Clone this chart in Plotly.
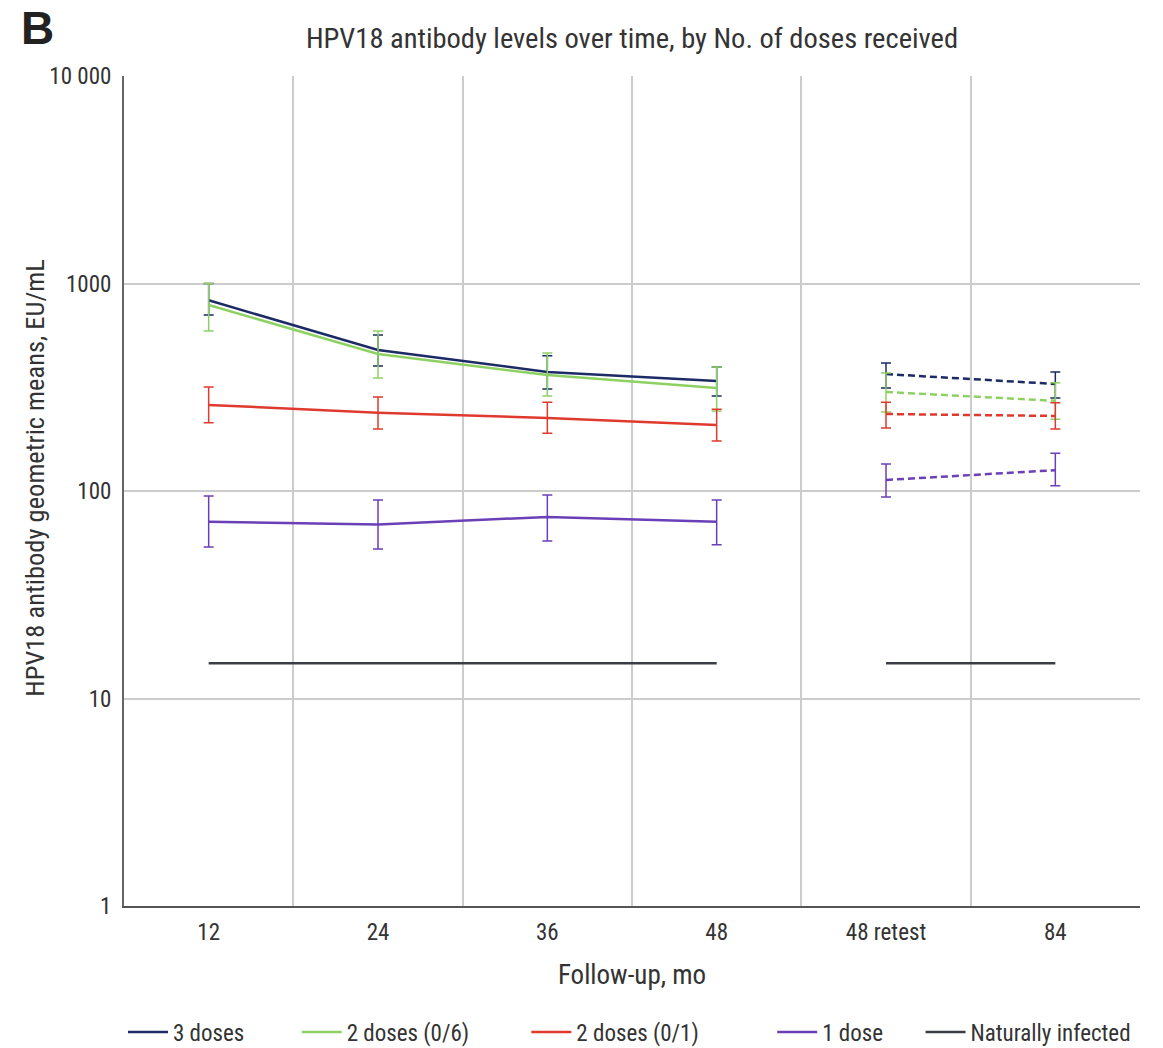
import plotly.graph_objects as go

categories = ["12", "24", "36", "48", "48 retest", "84"]

series_names = ["3 doses", "2 doses (0/6)", "2 doses (0/1)", "1 dose"]
colors = ["#1c2a66", "#8ed163", "#e03a2e", "#6b3fb8"]

gmt_3 = [830, 478, 375, 339, 366, 328]
hi_3 = [1000, 565, 448, 396, 414, 375]
lo_3 = [705, 400, 310, 287, 314, 281]

gmt_2_06 = [788, 457, 362, 314, 300, 272]
hi_2_06 = [1000, 590, 462, 396, 370, 332]
lo_2_06 = [590, 350, 287, 243, 240, 222]

gmt_2_01 = [260, 238, 225, 208, 235, 230]
hi_2_01 = [317, 284, 268, 248, 268, 266]
lo_2_01 = [213, 199, 190, 174, 201, 199]

gmt_1 = [71, 69, 75, 71, 113, 126]
hi_1 = [94.6, 90.5, 95.6, 90.5, 135, 152]
lo_1 = [53.7, 52.5, 57.4, 55, 93.5, 106]

natural = [14.8, 14.8, 14.8, 14.8, 14.8, 14.8]
natural_name = "Naturally infected"
natural_color = "#3b3e46"

all_gmt = [gmt_3, gmt_2_06, gmt_2_01, gmt_1]
all_hi = [hi_3, hi_2_06, hi_2_01, hi_1]
all_lo = [lo_3, lo_2_06, lo_2_01, lo_1]

FONT = "Roboto Condensed, DejaVu Sans Condensed, sans-serif"
TXT = "#333333"

# legend placement (one legend per entry, spread across the bottom)
legend_x = [-0.001, 0.170, 0.396, 0.638, 0.784]
legend_ids = ["legend", "legend2", "legend3", "legend4", "legend5"]

fig = go.Figure()

for i, (name, col, g, hi, lo) in enumerate(zip(series_names, colors, all_gmt, all_hi, all_lo)):
    up = [h - v for h, v in zip(hi, g)]
    dn = [v - l for v, l in zip(g, lo)]
    fig.add_trace(go.Scatter(
        x=categories[:4], y=g[:4], name=name, mode="lines",
        line=dict(color=col, width=2.5), legendgroup=name, legend=legend_ids[i],
        error_y=dict(type="data", array=up[:4], arrayminus=dn[:4],
                     color=col, thickness=1.5, width=5),
    ))
    fig.add_trace(go.Scatter(
        x=categories[4:], y=g[4:], name=name, mode="lines",
        line=dict(color=col, width=2.5, dash="7px,4px"), legendgroup=name,
        legend=legend_ids[i], showlegend=False,
        error_y=dict(type="data", array=up[4:], arrayminus=dn[4:],
                     color=col, thickness=1.5, width=5),
    ))

fig.add_trace(go.Scatter(
    x=categories[:4], y=natural[:4], name=natural_name, mode="lines",
    line=dict(color=natural_color, width=2.5), legendgroup="nat", legend="legend5",
))
fig.add_trace(go.Scatter(
    x=categories[4:], y=natural[4:], name=natural_name, mode="lines",
    line=dict(color=natural_color, width=2.5), legendgroup="nat", legend="legend5",
    showlegend=False,
))

legend_common = dict(orientation="h", xanchor="left", y=-0.152, yanchor="middle",
                     font=dict(family=FONT, size=23, color=TXT), bgcolor="rgba(0,0,0,0)",
                     borderwidth=0, itemwidth=40)

fig.update_layout(
    width=1163, height=1048,
    margin=dict(l=124, r=23, t=76, b=142, autoexpand=False),
    paper_bgcolor="white", plot_bgcolor="white",
    font=dict(family=FONT, size=23, color=TXT),
    title=dict(text="HPV18 antibody levels over time, by No. of doses received",
               x=0.5434, xanchor="center", y=0.9637, yanchor="middle",
               font=dict(family=FONT, size=28.5, color=TXT)),
    showlegend=True,
    legend=dict(x=legend_x[0], **legend_common),
    legend2=dict(x=legend_x[1], **legend_common),
    legend3=dict(x=legend_x[2], **legend_common),
    legend4=dict(x=legend_x[3], **legend_common),
    legend5=dict(x=legend_x[4], **legend_common),
)

fig.add_annotation(text="<b>B</b>", xref="paper", yref="paper",
                   x=-0.0856, y=1.0578, xanchor="center", yanchor="middle",
                   showarrow=False,
                   font=dict(family="Liberation Sans, Arial, sans-serif", size=46, color="#222222"))
fig.add_annotation(text="HPV18 antibody geometric means, EU/mL", xref="paper", yref="paper",
                   x=-0.0876, y=0.516, xanchor="center", yanchor="middle", textangle=-90,
                   showarrow=False, font=dict(family=FONT, size=26.5, color=TXT))

fig.update_xaxes(
    type="category", categoryorder="array", categoryarray=categories,
    range=[-0.5, 5.5], tickson="boundaries",
    showgrid=True, gridcolor="#cccccc", gridwidth=2,
    ticks="outside", ticklen=19, tickcolor="rgba(0,0,0,0)", ticklabelstandoff=4,
    showline=True, linecolor="#555555", linewidth=2,
    tickfont=dict(family=FONT, size=23, color=TXT),
    title=dict(text="Follow-up, mo", standoff=21,
               font=dict(family=FONT, size=27, color=TXT)),
    zeroline=False,
)
fig.update_yaxes(
    type="log", range=[0, 4],
    tickvals=[1, 10, 100, 1000, 10000],
    ticktext=["1", "10", "100", "1000", "10 000"],
    showgrid=True, gridcolor="#cccccc", gridwidth=2,
    ticks="outside", ticklen=6, tickcolor="rgba(0,0,0,0)",
    showline=True, linecolor="#666666", linewidth=2,
    tickfont=dict(family=FONT, size=23, color=TXT),
    zeroline=False,
)

fig.write_html("out.html")
